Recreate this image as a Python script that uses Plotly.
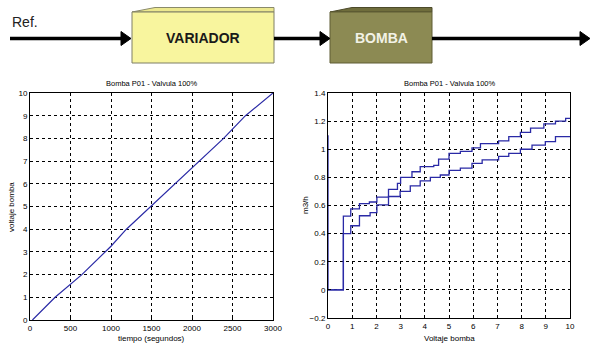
import plotly.graph_objects as go

W, H = 591, 345

# ---- Data: left chart (voltage ramp vs time) ----
tiempo = [30, 310, 640, 930, 1000, 1190, 1490, 1500, 1780, 2090, 2390, 2660, 3000]
voltaje = [0.0, 1.0, 2.0, 3.0, 3.25, 4.0, 5.0, 5.05, 6.0, 7.0, 8.0, 9.0, 10.0]

# ---- Data: right chart (flow vs pump voltage, two step curves) ----
upper_x = [0, 0, 0.635, 0.94, 1.3, 1.71, 2.02, 2.5, 2.87, 3.0, 3.47, 3.81, 4.37, 4.57,
           5.0, 5.47, 5.95, 6.3, 7.05, 7.47, 7.95, 8.37, 8.92, 9.4, 9.82, 10]
upper_y = [1.1, 0, 0.525, 0.576, 0.614, 0.625, 0.66, 0.715, 0.757, 0.80, 0.84, 0.877, 0.885, 0.93,
           0.97, 0.985, 1.01, 1.04, 1.06, 1.09, 1.12, 1.15, 1.18, 1.20, 1.22, 1.22]
lower_x = [0, 0.635, 0.94, 1.3, 1.74, 2.02, 2.5, 2.98, 3.4, 3.81, 4.23, 4.64, 5.0, 5.47,
           5.95, 6.37, 7.05, 7.47, 7.95, 8.43, 8.98, 9.4, 10]
lower_y = [0, 0.40, 0.456, 0.527, 0.55, 0.605, 0.664, 0.70, 0.74, 0.775, 0.80, 0.817, 0.85, 0.866,
           0.90, 0.925, 0.95, 0.97, 1.0, 1.03, 1.054, 1.09, 1.09]

titulo = "Bomba P01 - Valvula 100%"
LINE = "#2a2aa6"
FONT = "Liberation Sans, Arial, sans-serif"


def X(px):
    return px / W


def Y(py):
    return 1 - py / H


fig = go.Figure()
fig.add_trace(go.Scatter(x=tiempo, y=voltaje, mode="lines", line=dict(color=LINE, width=1.2),
                         xaxis="x", yaxis="y", showlegend=False))
fig.add_trace(go.Scatter(x=upper_x, y=upper_y, mode="lines", line=dict(color=LINE, width=1.3, shape="hv"),
                         xaxis="x2", yaxis="y2", showlegend=False))
fig.add_trace(go.Scatter(x=lower_x, y=lower_y, mode="lines", line=dict(color=LINE, width=1.3, shape="hv"),
                         xaxis="x2", yaxis="y2", showlegend=False))

axis_common = dict(showline=True, mirror=True, linecolor="black", linewidth=1,
                   showgrid=True, gridcolor="black", griddash="dot", gridwidth=1,
                   zeroline=False, ticks="inside", ticklen=3, tickcolor="black",
                   automargin=False,
                   tickfont=dict(family=FONT, size=8, color="black"))

fig.update_layout(
    width=W, height=H,
    margin=dict(l=0, r=0, t=0, b=0, autoexpand=False),
    paper_bgcolor="white", plot_bgcolor="white",
    xaxis=dict(domain=[X(30), X(273)], range=[0, 3000], dtick=500, anchor="y", **axis_common),
    yaxis=dict(domain=[Y(320), Y(93)], range=[0, 10], dtick=1, anchor="x", **axis_common),
    xaxis2=dict(domain=[X(328), X(570)], range=[0, 10], dtick=1, anchor="y2", **axis_common),
    yaxis2=dict(domain=[Y(318), Y(93)], range=[-0.2, 1.4], dtick=0.2, anchor="x2",
                tickformat="~g", **axis_common),
)

ann = []


def text(px, py, s, size, color="black", angle=0, bold=False):
    ann.append(dict(x=X(px), y=Y(py), text=f"<b>{s}</b>" if bold else s, showarrow=False,
                    xref="paper", yref="paper", xanchor="center", yanchor="middle",
                    textangle=angle, font=dict(family=FONT, size=size, color=color)))


text(151, 83, titulo, 7.5)
text(449, 83, titulo, 7.5)
text(151, 338, "tiempo (segundos)", 8)
text(449, 338, "Voltaje bomba", 8)
text(11, 207, "voltaje bomba", 8, angle=-90)
text(305, 205, "m3/h", 8, angle=-90)

# Block diagram text
text(25, 22, "Ref.", 14, color="#222222")
text(203, 38, "VARIADOR", 14, color="#1a1a1a", bold=True)
text(381, 38, "BOMBA", 14, color="#f2f2e6", bold=True)

shapes = []


def rect(x0, y0, x1, y1, fill, line):
    shapes.append(dict(type="rect", xref="paper", yref="paper", x0=X(x0), x1=X(x1), y0=Y(y1), y1=Y(y0),
                       fillcolor=fill, line=dict(color=line, width=1)))


def poly(pts, fill, line):
    path = "M " + " L ".join(f"{X(a)},{Y(b)}" for a, b in pts) + " Z"
    shapes.append(dict(type="path", xref="paper", yref="paper", path=path,
                       fillcolor=fill, line=dict(color=line, width=1)))


def arrow(x0, x1, y, head=10, half=7):
    shapes.append(dict(type="line", xref="paper", yref="paper", x0=X(x0), x1=X(x1 - head + 1), y0=Y(y), y1=Y(y),
                       line=dict(color="black", width=3.5)))
    poly([(x1 - head, y - half), (x1, y), (x1 - head, y + half)], "black", "black")


# VARIADOR box with bevel
poly([(132, 12), (155, 7.5), (274, 7.5), (274, 12)], "#ece88e", "#8a8a6a")
rect(132, 12, 274, 63, "#f8f59e", "#7e7e66")
# BOMBA box with bevel
poly([(330, 12), (352, 7.5), (432, 7.5), (432, 12)], "#6f6d3c", "#4c4a2a")
rect(330, 12, 432, 63, "#8c8a53", "#5e5c35")

arrow(10, 131, 38.5)
arrow(274, 330, 38.5)
arrow(432, 590, 38.5)

fig.update_layout(annotations=ann, shapes=shapes)
fig.write_html("out.html", config={"displayModeBar": False},
               post_script="document.body.style.margin='0';document.body.style.overflow='hidden';")
